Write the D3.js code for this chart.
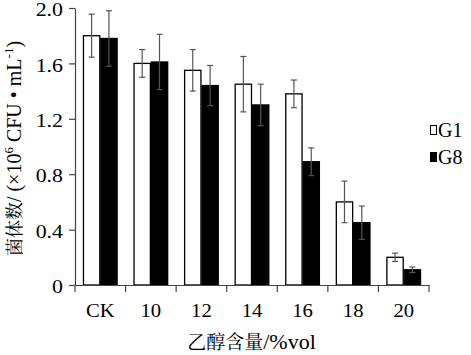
<!DOCTYPE html>
<html><head><meta charset="utf-8">
<script src="https://cdn.jsdelivr.net/npm/d3@7"></script>
<style>body{margin:0;background:#fff}svg{display:block}</style>
</head><body>
<script>
const categories = ["CK","10","12","14","16","18","20"];
const seriesNames = ["G1","G8"];
const g1Values = [1.80,1.60,1.55,1.45,1.38,0.60,0.20];
const g1Errors = [0.155,0.10,0.15,0.20,0.10,0.15,0.03];
const g8Values = [1.78,1.61,1.44,1.30,0.89,0.45,0.11];
const g8Errors = [0.20,0.20,0.145,0.15,0.10,0.12,0.02];
const yTicks = [0,0.4,0.8,1.2,1.6,2.0];
const yTickLabels = ["0","0.4","0.8","1.2","1.6","2.0"];
const xTitleCJK = "乙醇含量";
const xTitleLatin = "/%vol";

(function(){
const W=471,H=355;
const svg=d3.select("body").append("svg").attr("width",W).attr("height",H);
const mLeft=75,mRight=429,mTop=8,mBottom=285;
const serif="'Liberation Serif','Times New Roman',serif";
const cjk="'Noto Serif CJK SC','Noto Sans CJK SC',serif";
const sx=1.15;

const x=d3.scaleBand().domain(categories).range([mLeft,mRight]).paddingInner(0).paddingOuter(0);
const xs=d3.scaleBand().domain(seriesNames).range([0,x.bandwidth()]).paddingInner(0).paddingOuter(0.46);
const y=d3.scaleLinear().domain([0,2.0]).range([mBottom,mTop]);

const data=categories.map((c,i)=>({c,vals:[
  {s:"G1",v:g1Values[i],e:g1Errors[i]},
  {s:"G8",v:g8Values[i],e:g8Errors[i]}]}));

const colors={G1:"#fff",G8:"#000"};
const grp=svg.append("g").selectAll("g").data(data).join("g")
  .attr("transform",d=>`translate(${x(d.c)},0)`);
grp.selectAll("rect").data(d=>d.vals).join("rect")
  .attr("x",d=>xs(d.s)+0.5).attr("y",d=>y(d.v))
  .attr("width",xs.bandwidth()-1).attr("height",d=>y(0)-y(d.v))
  .attr("fill",d=>colors[d.s]).attr("stroke","#000").attr("stroke-width",1.3);
const eb=grp.selectAll("g.eb").data(d=>d.vals).join("g").attr("class","eb")
  .attr("stroke","#555").attr("stroke-width",1.2);
eb.append("line").attr("x1",d=>xs(d.s)+xs.bandwidth()/2).attr("x2",d=>xs(d.s)+xs.bandwidth()/2)
  .attr("y1",d=>y(d.v+d.e)).attr("y2",d=>y(d.v-d.e));
eb.append("line").attr("x1",d=>xs(d.s)+xs.bandwidth()/2-3).attr("x2",d=>xs(d.s)+xs.bandwidth()/2+3)
  .attr("y1",d=>y(d.v+d.e)).attr("y2",d=>y(d.v+d.e));
eb.append("line").attr("x1",d=>xs(d.s)+xs.bandwidth()/2-3).attr("x2",d=>xs(d.s)+xs.bandwidth()/2+3)
  .attr("y1",d=>y(d.v-d.e)).attr("y2",d=>y(d.v-d.e));

const ya=svg.append("g").attr("transform",`translate(${mLeft},0)`)
  .call(d3.axisLeft(y).tickValues(yTicks).tickFormat((d,i)=>yTickLabels[i]).tickSize(6).tickSizeOuter(0));
ya.select(".domain").attr("stroke","#444").attr("stroke-width",1.2);
ya.selectAll(".tick line").attr("stroke","#444").attr("stroke-width",1.2);
ya.selectAll("text").attr("font-family",serif).attr("font-size",19).attr("fill","#000")
  .attr("x",-12/sx).attr("dy","0.4em").attr("transform",`scale(${sx},1)`);

const xa=svg.append("g").attr("transform",`translate(0,${mBottom})`)
  .call(d3.axisBottom(x).tickSize(0).tickSizeOuter(0));
xa.select(".domain").attr("stroke","#444").attr("stroke-width",1.2);
xa.selectAll("text").attr("font-family",serif).attr("font-size",18).attr("fill","#000")
  .attr("y",19).attr("dy","0.71em").attr("transform",`scale(${sx},1)`);
const bounds=categories.map(c=>x(c)).concat([mRight]);
svg.append("g").selectAll("line").data(bounds).join("line")
  .attr("x1",d=>d).attr("x2",d=>d).attr("y1",mBottom).attr("y2",mBottom+7)
  .attr("stroke","#444").attr("stroke-width",1.2);

const xt=svg.append("text").attr("x",251.5).attr("y",349).attr("text-anchor","middle")
  .attr("font-family",serif).attr("font-size",22);
xt.append("tspan").attr("font-family",cjk).attr("font-size",19).text(xTitleCJK);
xt.append("tspan").attr("font-size",22).text(xTitleLatin);

const yt=svg.append("text").attr("transform",`translate(21,148.5) rotate(-90)`)
  .attr("text-anchor","middle").attr("font-family",serif).attr("font-size",20);
yt.append("tspan").attr("font-family",cjk).attr("font-size",18).text("菌体数");
yt.append("tspan").text("/ (×10");
yt.append("tspan").attr("font-size",13).attr("dy",-8).text("6");
yt.append("tspan").attr("dy",8).text(" CFU • mL");
yt.append("tspan").attr("font-size",13).attr("dy",-8).text("-1");
yt.append("tspan").attr("dy",8).text(")");

const lg=svg.append("g").selectAll("g").data(seriesNames).join("g")
  .attr("transform",(d,i)=>`translate(430,${125+i*27})`);
lg.append("rect").attr("x",0.5).attr("y",0.5).attr("width",6).attr("height",9)
  .attr("fill",d=>colors[d]).attr("stroke","#000").attr("stroke-width",1);
lg.append("text").attr("x",8).attr("y",11.5).attr("font-family",serif).attr("font-size",20).text(d=>d);
})();
</script>
</body></html>
